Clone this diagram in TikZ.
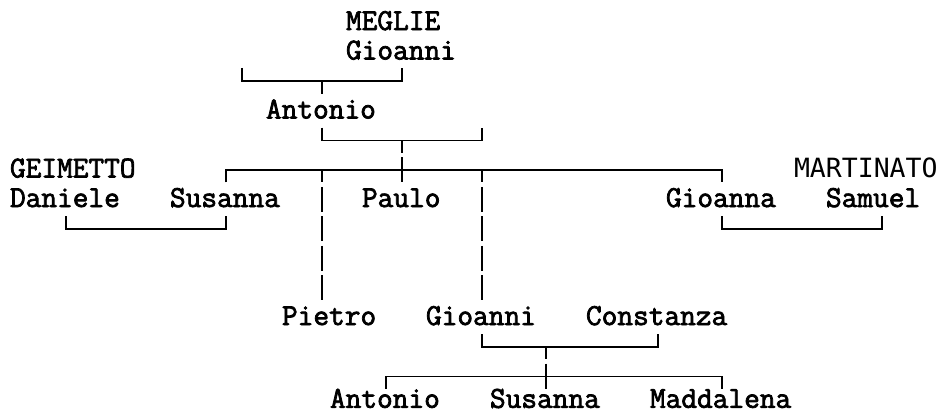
\documentclass[tikz,border=0pt]{standalone}
\usepackage{fontspec}
\setmonofont{Latin Modern Mono}[AutoFakeBold=2.4]
\newfontfamily\thinmono{DejaVu Sans Mono}
\begin{document}
\begin{tikzpicture}[x=16pt,y=-29.5pt,
  person/.style={anchor=base west,inner sep=0pt,outer sep=0pt,
    font=\ttfamily\bfseries\fontsize{30.48}{32}\selectfont},
  thinperson/.style={anchor=base west,inner sep=0pt,outer sep=0pt,
    font=\thinmono\fontsize{26.5}{30}\selectfont},
  rule/.style={line width=1.5pt,line join=miter,black}]
\useasboundingbox (-0.625,-0.2542) rectangle (58.125,13.8136);
% names
\node[person] (meglie) at (21,0.763) {MEGLIE};
\node[person] (gioanniA) at (21,1.763) {Gioanni};
\node[person] (antonioA) at (16,3.763) {Antonio};
\node[person] (geimetto) at (0,5.763) {GEIMETTO};
\node[thinperson] (martinato) at (49,5.763) {MARTINATO};
\node[person] (daniele) at (0,6.763) {Daniele};
\node[person] (susannaA) at (10,6.763) {Susanna};
\node[person] (paulo) at (22,6.763) {Paulo};
\node[person] (gioanna) at (41,6.763) {Gioanna};
\node[person] (samuel) at (51,6.763) {Samuel};
\node[person] (pietro) at (17,10.763) {Pietro};
\node[person] (gioanniB) at (26,10.763) {Gioanni};
\node[person] (constanza) at (36,10.763) {Constanza};
\node[person] (antonioB) at (20,13.57) {Antonio};
\node[person] (susannaB) at (30,13.57) {Susanna};
\node[person] (maddalena) at (40,13.57) {Maddalena};
% row 2: Meglie Gioanni -> Antonio
\draw[rule] (14.5,2.05) -- (14.5,2.5) -- (24.5,2.5) -- (24.5,2.05);
\draw[rule] (19.5,2.5) -- (19.5,2.93);
% row 4: Antonio -> children
\draw[rule] (19.5,4.07) -- (19.5,4.5) -- (29.5,4.5) -- (29.5,4.07);
\draw[rule] (24.5,4.5) -- (24.5,4.93);
% row 5: sibling line
\draw[rule] (24.5,5.07) -- (24.5,5.5);
\draw[rule] (13.5,5.93) -- (13.5,5.5) -- (44.5,5.5) -- (44.5,5.93);
\foreach \c in {19.5,24.5,29.5} \draw[rule] (\c,5.5) -- (\c,5.93);
% long drops to Pietro and Gioanni
\foreach \c in {19.5,29.5}
  \foreach \r in {6,7,8,9} \draw[rule] (\c,\r+0.08) -- (\c,\r+0.93);
% row 7: marriages
\draw[rule] (3.5,7.07) -- (3.5,7.5) -- (13.5,7.5) -- (13.5,7.07);
\draw[rule] (44.5,7.07) -- (44.5,7.5) -- (54.5,7.5) -- (54.5,7.07);
% row 11: Gioanni + Constanza
\draw[rule] (29.5,11.07) -- (29.5,11.5) -- (40.5,11.5) -- (40.5,11.07);
\draw[rule] (33.5,11.5) -- (33.5,11.93);
% row 12: their children
\draw[rule] (33.5,12.07) -- (33.5,12.5);
\draw[rule] (23.5,12.93) -- (23.5,12.5) -- (44.5,12.5) -- (44.5,12.93);
\draw[rule] (33.5,12.5) -- (33.5,12.93);
\end{tikzpicture}
\end{document}
